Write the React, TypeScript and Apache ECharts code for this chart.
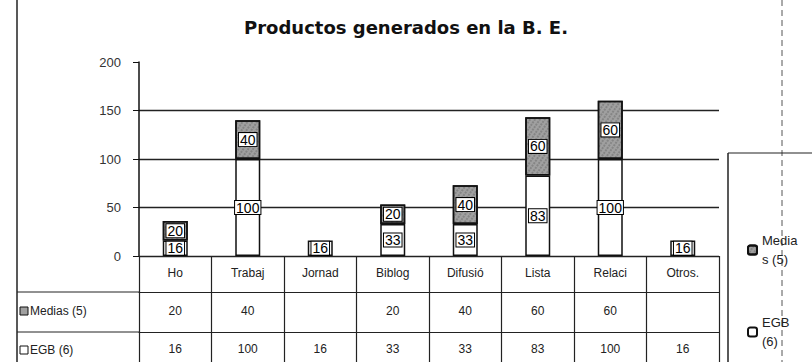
import React, { useEffect, useRef } from "react";
import * as echarts from "echarts";

const title = "Productos generados en la B. E.";
const categories = ["Ho", "Trabaj", "Jornad", "Biblog", "Difusió", "Lista", "Relaci", "Otros."];
const seriesNames = ["Medias (5)", "EGB (6)"];
const legendLabels = ["Media\ns (5)", "EGB\n(6)"];
const mediasValues: (number | null)[] = [20, 40, null, 20, 40, 60, 60, null];
const egbValues: (number | null)[] = [16, 100, 16, 33, 33, 83, 100, 16];
const yTicks = { min: 0, max: 200, interval: 50 };

const FONT = "Liberation Sans";
const MEDIAS_COLOR = "#a0a0a0";

export default function App() {
  const ref = useRef<HTMLDivElement>(null);
  useEffect(() => {
    if (!ref.current) return;
    const chart = echarts.init(ref.current, undefined, { renderer: "svg" });
    const gridLeft = 139;
    const gridRight = 93;
    const gridTop = 62;
    const axisY = 256;
    const row1 = 36;
    const row2 = 40;

    const fmt = (arr: (number | null)[]) => arr.map((v) => (v == null ? "" : String(v)));

    const label = {
      show: true,
      position: "inside" as const,
      fontFamily: FONT,
      fontSize: 14,
      color: "#000",
      backgroundColor: "#fff",
      borderColor: "#000",
      borderWidth: 1,
      padding: [0, 1, -1, 1],
      lineHeight: 14,
    };

    const tableAxis = (data: string[], offset: number, tickLen: number, margin: number) => ({
      type: "category" as const,
      data,
      position: "bottom" as const,
      offset,
      boundaryGap: true,
      axisLine: { show: true, lineStyle: { color: "#222", width: 1 } },
      axisTick: { show: true, interval: 0, length: tickLen, lineStyle: { color: "#222", width: 1.2 } },
      axisLabel: { interval: 0, margin, fontFamily: FONT, fontSize: 12, color: "#222" },
      splitLine: { show: false },
    });

    chart.setOption({
      animation: false,
      backgroundColor: "#fff",
      title: {
        text: title,
        left: "center",
        top: 13,
        textStyle: { fontFamily: "DejaVu Sans", fontSize: 18, fontWeight: "bold", color: "#111" },
      },
      grid: { left: gridLeft, right: gridRight, top: gridTop, bottom: 362 - axisY, containLabel: false },
      legend: {
        data: seriesNames,
        orient: "vertical",
        left: 742,
        top: 226,
        itemWidth: 9,
        itemHeight: 9,
        itemGap: 44,
        formatter: (n: string) => legendLabels[seriesNames.indexOf(n)],
        textStyle: { fontFamily: FONT, fontSize: 13, color: "#222", lineHeight: 19 },
      },
      xAxis: [
        tableAxis(categories, 0, row1, 11),
        tableAxis(fmt(mediasValues), row1, row2, 13),
        tableAxis(fmt(egbValues), row1 + row2, 40, 11),
      ],
      yAxis: {
        type: "value",
        min: yTicks.min,
        max: yTicks.max,
        interval: yTicks.interval,
        axisLine: { show: true, lineStyle: { color: "#111", width: 1.5 } },
        axisTick: { show: true, length: 6, lineStyle: { color: "#111" } },
        axisLabel: { margin: 18, fontFamily: FONT, fontSize: 13, color: "#333" },
        splitLine: {
          show: true,
          lineStyle: { color: ["#222", "#222", "#222", "#222", "rgba(0,0,0,0)"], width: 1.3 },
        },
      },
      series: [
        {
          name: seriesNames[1],
          type: "bar",
          stack: "total",
          xAxisIndex: 0,
          barWidth: 25,
          data: egbValues,
          itemStyle: { color: "#fff", borderColor: "#111", borderWidth: 1.5 },
          label,
        },
        {
          name: seriesNames[0],
          type: "bar",
          stack: "total",
          xAxisIndex: 0,
          barWidth: 25,
          data: mediasValues,
          itemStyle: {
            color: MEDIAS_COLOR,
            borderColor: "#111",
            borderWidth: 1.5,
            decal: {
              symbol: "rect",
              symbolSize: 0.6,
              color: "rgba(30,30,30,0.7)",
              dashArrayX: [2, 2],
              dashArrayY: [2, 1],
              rotation: 0.6,
            },
          },
          label,
        },
      ],
      graphic: [
        { type: "line", shape: { x1: 17, y1: 0, x2: 17, y2: 362 }, style: { stroke: "#222", lineWidth: 1.5 } },
        { type: "line", shape: { x1: 782, y1: 0, x2: 782, y2: 362 }, style: { stroke: "#555", lineWidth: 1, lineDash: [6, 4] } },
        { type: "line", shape: { x1: 17, y1: axisY + row1, x2: gridLeft, y2: axisY + row1 }, style: { stroke: "#222", lineWidth: 1 } },
        { type: "line", shape: { x1: 17, y1: axisY + row1 + row2, x2: gridLeft, y2: axisY + row1 + row2 }, style: { stroke: "#222", lineWidth: 1 } },
        { type: "line", shape: { x1: 728, y1: 153, x2: 812, y2: 153 }, style: { stroke: "#222", lineWidth: 1.2 } },
        { type: "line", shape: { x1: 728, y1: 153, x2: 728, y2: 362 }, style: { stroke: "#222", lineWidth: 1.5 } },
        {
          type: "rect",
          shape: { x: 20, y: axisY + row1 + 15, width: 8, height: 8 },
          style: { fill: MEDIAS_COLOR, stroke: "#111", lineWidth: 1 },
        },
        {
          type: "text",
          x: 30,
          y: axisY + row1 + 19,
          style: { text: seriesNames[0], fontFamily: FONT, fontSize: 12, fill: "#222", verticalAlign: "middle" },
        },
        {
          type: "rect",
          shape: { x: 20, y: axisY + row1 + row2 + 14, width: 8, height: 8 },
          style: { fill: "#fff", stroke: "#111", lineWidth: 1 },
        },
        {
          type: "text",
          x: 30,
          y: axisY + row1 + row2 + 18,
          style: { text: seriesNames[1], fontFamily: FONT, fontSize: 12, fill: "#222", verticalAlign: "middle" },
        },
      ],
    });
    return () => chart.dispose();
  }, []);
  return (
    <div
      ref={ref}
      style={{ position: "fixed", left: 0, top: 0, width: 812, height: 362, background: "#fff" }}
    />
  );
}
